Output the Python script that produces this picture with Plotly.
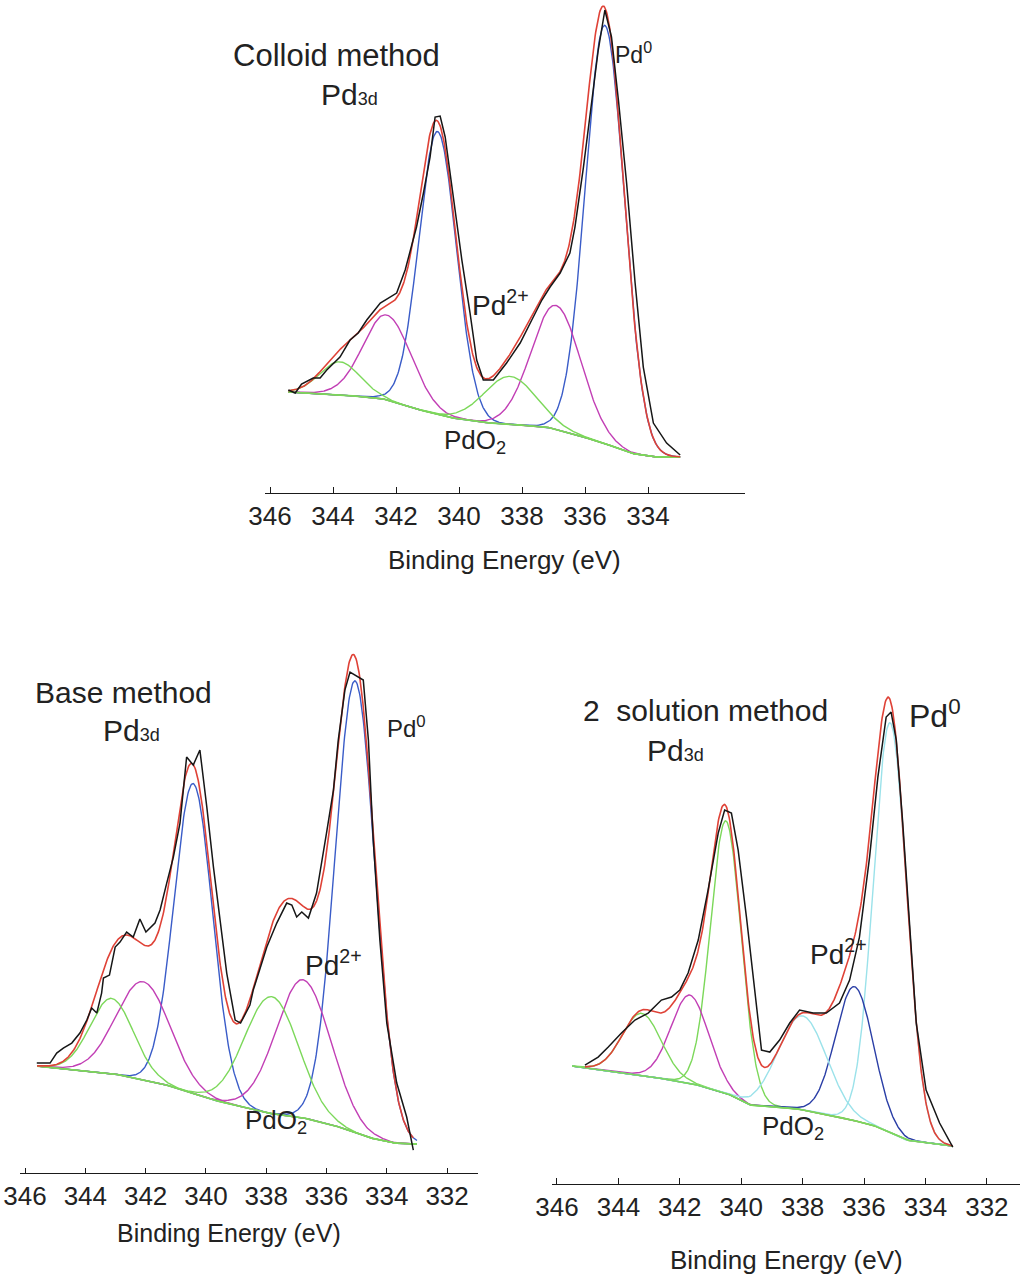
import numpy as np
import plotly.graph_objects as go

# ---------------- Colloid method (top panel) ----------------
# measured spectrum: binding energy (eV) and intensity (a.u.)
colloid_be = [345.42, 345.20, 345.00, 344.63, 344.41, 344.20, 343.78, 343.46, 343.20, 342.93,
              342.50, 342.30, 341.98, 341.71, 341.56, 341.35, 341.13, 340.92, 340.76, 340.60,
              340.44, 340.18, 339.91, 339.65, 339.44, 339.23, 338.91, 338.49, 338.06, 337.69,
              337.37, 337.11, 336.79, 336.48, 336.32, 336.05, 335.79, 335.58, 335.37, 335.16,
              334.94, 334.68, 334.41, 334.15, 333.83, 333.41, 332.98]
colloid_counts = [103, 100, 109, 115, 115, 123, 136, 153, 160, 173,
                  190, 194, 200, 223, 240, 266, 300, 336, 376, 377,
                  356, 293, 233, 180, 133, 113, 113, 130, 150, 173,
                  193, 206, 220, 240, 266, 326, 393, 443, 483, 456,
                  393, 310, 210, 126, 70, 50, 38]
# background
colloid_bg_be = [345.42, 344.10, 342.50, 341.46, 340.39, 339.33, 339.00, 338.06, 337.22, 336.48,
                 335.40, 334.57, 333.84, 332.98]
colloid_bg = [101, 99, 95, 85, 76, 71, 70, 68, 66, 60, 50, 40, 36, 36]
# fitted components: Pd0 3d3/2, Pd0 3d5/2, Pd2+ 3d3/2, Pd2+ 3d5/2, PdO2 3d3/2, PdO2 3d5/2
colloid_center = [340.68, 335.37, 342.28, 336.92, 343.78, 338.38]
colloid_height = [283, 418, 85, 124, 33, 48]
colloid_fwhm = [1.40, 1.45, 1.80, 1.85, 1.50, 1.95]

# ---------------- Base method (bottom left) ----------------
base_be = [345.61, 345.17, 344.95, 344.73, 344.45, 344.18, 343.95, 343.79, 343.62, 343.46,
           343.40, 343.20, 343.01, 342.85, 342.63, 342.41, 342.19, 341.99, 341.69, 341.52,
           341.30, 341.08, 340.86, 340.64, 340.42, 340.20, 339.97, 339.75, 339.53, 339.31,
           339.03, 338.85, 338.54, 338.43, 337.98, 337.65, 337.32, 337.15, 336.99, 336.82,
           336.60, 336.33, 336.00, 335.77, 335.61, 335.39, 335.22, 334.78, 334.61, 334.45,
           334.23, 334.00, 333.67, 333.34, 333.12]
base_counts = [110, 110, 120, 125, 130, 140, 153, 165, 160, 180,
               195, 198, 226, 231, 241, 236, 254, 241, 250, 263,
               290, 316, 350, 416, 408, 423, 366, 306, 253, 200,
               153, 150, 168, 183, 226, 250, 270, 268, 256, 261,
               255, 280, 340, 383, 433, 483, 501, 493, 433, 333,
               233, 150, 90, 56, 23]
base_bg_be = [345.61, 343.18, 341.52, 339.75, 337.98, 336.88, 335.77, 334.67, 333.78, 333.00]
base_bg = [107, 100, 90, 73, 60, 56, 48, 36, 30, 29]
base_center = [340.42, 335.05, 342.08, 336.77, 343.12, 337.82]
base_height = [310, 452, 98, 138, 75, 117]
base_fwhm = [1.50, 1.55, 2.10, 2.15, 1.70, 2.10]

# ---------------- 2 solution method (bottom right) ----------------
sol_be = [345.09, 344.66, 344.33, 343.90, 343.46, 343.03, 342.60, 342.27, 342.00, 341.73,
          341.40, 341.08, 340.75, 340.54, 340.32, 340.10, 339.83, 339.56, 339.34, 339.07,
          338.75, 338.42, 338.10, 337.66, 337.23, 336.80, 336.47, 336.15, 335.82, 335.55,
          335.28, 335.12, 334.95, 334.74, 334.52, 334.30, 333.98, 333.54, 333.11]
sol_counts = [119, 127, 137, 151, 164, 171, 184, 187, 194, 211,
              244, 294, 351, 374, 371, 334, 267, 197, 134, 132,
              144, 161, 174, 171, 171, 181, 204, 247, 327, 407,
              467, 472, 444, 361, 261, 161, 94, 61, 37]
sol_bg_be = [345.52, 343.30, 341.67, 340.48, 339.72, 338.31, 336.80, 335.71, 334.63, 333.11]
sol_bg = [118, 109, 101, 91, 79, 76, 67, 59, 44, 38]
sol_center = [340.50, 335.15, 341.67, 336.31, 343.24, 338.00]
sol_height = [272, 410, 88, 134, 62, 94]
sol_fwhm = [1.18, 1.27, 1.45, 1.45, 1.50, 1.85]

tick_vals_top = [346, 344, 342, 340, 338, 336, 334]
tick_vals_bottom = [346, 344, 342, 340, 338, 336, 334, 332]

# ---------------- styling ----------------
FONT = "Liberation Sans, Arial, sans-serif"
TXT = "#222222"
RED = "#df4237"
BLUE = "#3a5cc8"
MAGENTA = "#c23fb5"
GREEN = "#7cd85a"
CYAN = "#9be2ea"
NAVY = "#2a3ea6"
BLACK = "#161616"
AXIS = "#1a1a1a"

colloid_colors = [BLUE, BLUE, MAGENTA, MAGENTA, GREEN, GREEN]
base_colors = [BLUE, BLUE, MAGENTA, MAGENTA, GREEN, GREEN]
sol_colors = [GREEN, CYAN, MAGENTA, NAVY, GREEN, CYAN]


def gauss(e, c, h, w):
    return h * np.exp(-4.0 * np.log(2.0) * (e - c) ** 2 / w ** 2)


def add_panel(fig, xa, ya, be, counts, bg_be, bg, centers, heights, fwhms, colors):
    # energy grid across the fitted window
    e = np.arange(min(bg_be), max(bg_be) + 1e-9, 0.02)[::-1]
    back = np.interp(e, bg_be[::-1], bg[::-1])
    comps = [gauss(e, c, h, w) for c, h, w in zip(centers, heights, fwhms)]
    for comp, col in zip(comps, colors):
        fig.add_trace(go.Scatter(x=e, y=back + comp, mode="lines",
                                 line=dict(color=col, width=1.4),
                                 xaxis=xa, yaxis=ya, hoverinfo="skip"))
    fig.add_trace(go.Scatter(x=e, y=back, mode="lines",
                             line=dict(color=GREEN, width=1.6),
                             xaxis=xa, yaxis=ya, hoverinfo="skip"))
    env = back + np.sum(comps, axis=0)
    keep = (e <= max(be) + 1e-9) & (e >= min(be) - 1e-9)
    fig.add_trace(go.Scatter(x=e[keep], y=env[keep], mode="lines",
                             line=dict(color=RED, width=1.6),
                             xaxis=xa, yaxis=ya, hoverinfo="skip"))
    fig.add_trace(go.Scatter(x=be, y=counts, mode="lines",
                             line=dict(color=BLACK, width=1.5),
                             xaxis=xa, yaxis=ya, hoverinfo="skip"))


fig = go.Figure()
add_panel(fig, "x", "y", colloid_be, colloid_counts, colloid_bg_be, colloid_bg,
          colloid_center, colloid_height, colloid_fwhm, colloid_colors)
add_panel(fig, "x2", "y2", base_be, base_counts, base_bg_be, base_bg,
          base_center, base_height, base_fwhm, base_colors)
add_panel(fig, "x3", "y3", sol_be, sol_counts, sol_bg_be, sol_bg,
          sol_center, sol_height, sol_fwhm, sol_colors)


def xaxis_style(domain, rng, anchor, ticks):
    return dict(domain=domain, range=rng, anchor=anchor, automargin=False,
                showline=True, linecolor=AXIS, linewidth=1.3,
                ticks="inside", ticklen=6, tickwidth=1.2, tickcolor=AXIS,
                tickvals=ticks, ticktext=[str(t) for t in ticks],
                tickfont=dict(family=FONT, size=26, color=TXT),
                showgrid=False, zeroline=False, mirror=False)


def yaxis_style(domain, rng, anchor):
    return dict(domain=domain, range=rng, anchor=anchor, visible=False,
                automargin=False, showgrid=False, zeroline=False)


base_x = xaxis_style([0.0196, 0.4677], [346.166, 330.975], "y2", tick_vals_bottom)
base_x["ticklen"] = 5

fig.update_layout(
    width=1022, height=1277, autosize=False,
    margin=dict(l=0, r=0, t=0, b=0, pad=0, autoexpand=False),
    paper_bgcolor="white", plot_bgcolor="rgba(0,0,0,0)",
    showlegend=False,
    xaxis=xaxis_style([0.2593, 0.7290], [346.16, 330.92], "y", tick_vals_top),
    yaxis=yaxis_style([0.6139, 1.0], [0, 493], "x"),
    xaxis2=base_x,
    yaxis2=yaxis_style([0.0814, 0.5301], [0, 573], "x2"),
    xaxis3=xaxis_style([0.5401, 0.9980], [346.163, 330.923], "y3", tick_vals_bottom),
    yaxis3=yaxis_style([0.0728, 0.5301], [0, 584], "x3"),
    # lower half of the crossing tick marks on the base-method axis
    xaxis4=dict(overlaying="x2", anchor="y2", range=[346.166, 330.975], automargin=False,
                showline=False, ticks="outside", ticklen=4, tickwidth=1.2, tickcolor=AXIS,
                tickvals=tick_vals_bottom, showticklabels=False,
                showgrid=False, zeroline=False),
)


def label(xr, yr, x, y, text, size, xanchor="left"):
    fig.add_annotation(xref=xr, yref=yr, x=x, y=y, text=text, showarrow=False,
                       xanchor=xanchor, yanchor="middle",
                       font=dict(family=FONT, size=size, color=TXT))


SUB3D = "Pd<span style='font-size:18px'>3d</span>"

# top panel labels
label("x", "y", 343.9, 438, "Colloid method", 31, "center")
label("x", "y", 343.49, 399, SUB3D, 30, "center")
label("x", "y", 335.11, 440, "Pd<sup>0</sup>", 23)
label("x", "y", 339.65, 190, "Pd<sup>2+</sup>", 28)
label("x", "y", 340.55, 52, "PdO<sub>2</sub>", 26)
label("x", "y domain", 338.57, -0.136, "Binding Energy (eV)", 26, "center")

# bottom-left labels
label("x2", "y2", 342.72, 481, "Base method", 30, "center")
label("x2", "y2", 342.47, 443, SUB3D, 30, "center")
label("x2", "y2", 334.06, 446, "Pd<sup>0</sup>", 24)
label("x2", "y2", 336.78, 210, "Pd<sup>2+</sup>", 28)
label("x2", "y2", 338.77, 52, "PdO<sub>2</sub>", 26)
label("x2", "y2 domain", 339.25, -0.105, "Binding Energy (eV)", 25, "center")

# bottom-right labels
label("x3", "y3", 341.15, 474, "2  solution method", 30, "center")
label("x3", "y3", 342.13, 434, SUB3D, 30, "center")
label("x3", "y3", 334.6, 470, "Pd<sup>0</sup>", 32)
label("x3", "y3", 337.83, 232, "Pd<sup>2+</sup>", 28)
label("x3", "y3", 339.39, 57, "PdO<sub>2</sub>", 26)
label("x3", "y3 domain", 338.54, -0.130, "Binding Energy (eV)", 26, "center")

fig.write_html("out.html")
